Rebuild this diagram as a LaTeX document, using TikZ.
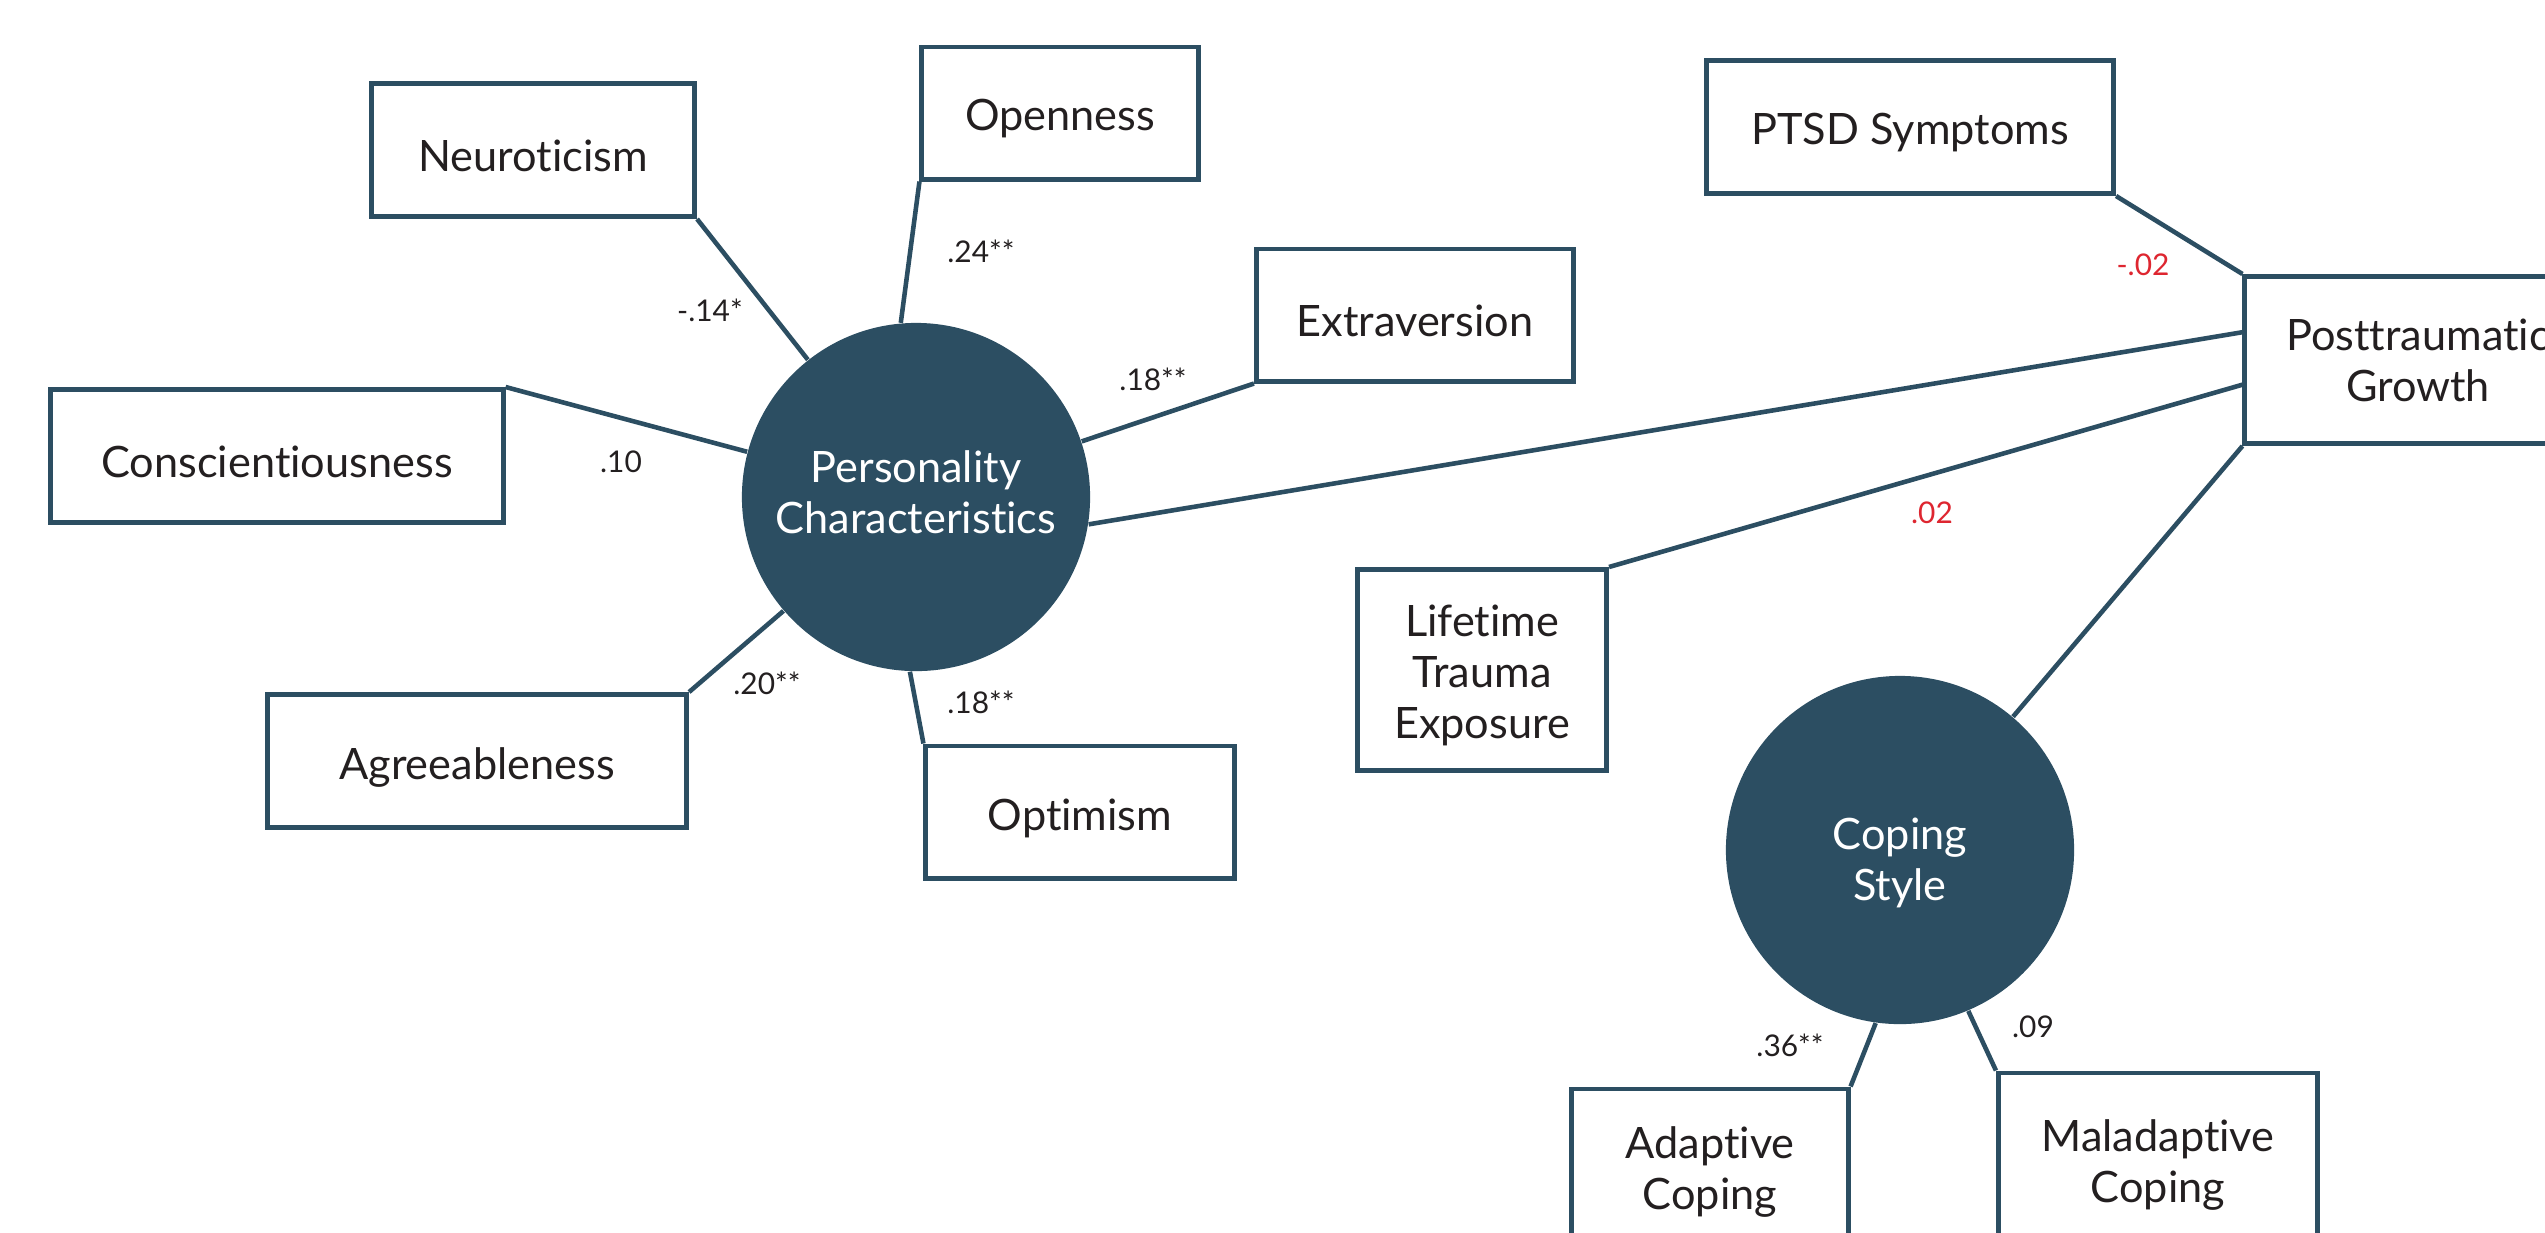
\documentclass[tikz,border=0pt]{standalone}
\usepackage{fontspec}
\setmainfont{Lato}[Ligatures=NoCommon]
\definecolor{navy}{RGB}{44,78,98}
\definecolor{labred}{RGB}{222,38,48}
\definecolor{ink}{RGB}{35,31,32}
\newcommand{\lowr}[2]{\raisebox{-#1}[\height][\depth]{#2}}
\begin{document}
\begin{tikzpicture}[x=0.01cm,y=-0.01cm,
  box/.style={draw=navy, line width=1.4pt, rectangle, inner sep=0pt, align=center, text=ink,
    font=\fontsize{12.3}{14.5}\selectfont},
  circ/.style={circle, fill=navy, minimum size=3.48cm, inner sep=0pt, align=center, text=white,
    font=\fontsize{12.3}{14.5}\selectfont},
  lnk/.style={draw=navy, line width=1.3pt},
  lab/.style={font=\fontsize{8.5}{10}\selectfont, text=ink, inner sep=0pt},
  lred/.style={lab, text=labred}]
\clip (0,0) rectangle (2545,1232);
\fill[white] (0,0) rectangle (2545,1232);
% nodes
\node[box, minimum width=3.23cm, minimum height=1.33cm] (neur) at (533,150) {\lowr{0.06cm}{Neuroticism}};
\node[box, minimum width=2.76cm, minimum height=1.32cm] (open) at (1060,113) {\lowr{0.06cm}{Openness}};
\node[box, minimum width=3.17cm, minimum height=1.32cm] (extr) at (1415,315) {\lowr{0.06cm}{Extraversion}};
\node[box, minimum width=4.52cm, minimum height=1.33cm] (consc) at (277,456) {\lowr{0.06cm}{Conscientiousness}};
\node[box, minimum width=4.19cm, minimum height=1.33cm] (agree) at (477,761) {\lowr{0.06cm}{Agreeableness}};
\node[box, minimum width=3.08cm, minimum height=1.32cm] (optim) at (1080,812) {\lowr{0.06cm}{Optimism}};
\node[circ] (pers) at (916,497) {\lowr{-0.05cm}{Personality}\\\lowr{-0.05cm}{Characteristics}};
\node[box, minimum width=4.07cm, minimum height=1.33cm] (ptsd) at (1910,127) {\lowr{0.06cm}{PTSD Symptoms}};
\node[box, minimum width=3.46cm, minimum height=1.67cm] (ptg) at (2418,360) {Posttraumatic\\Growth};
\node[box, minimum width=2.49cm, minimum height=2.01cm] (life) at (1482,670) {\lowr{0.05cm}{Lifetime}\\\lowr{0.05cm}{Trauma}\\\lowr{0.05cm}{Exposure}};
\node[circ] (coping) at (1900,850) {\lowr{0.13cm}{Coping}\\\lowr{0.13cm}{Style}};
\node[box, minimum width=2.76cm, minimum height=1.66cm] (adapt) at (1710,1172) {Adaptive\\Coping};
\node[box, minimum width=3.19cm, minimum height=1.72cm] (malad) at (2158,1159) {\lowr{0.06cm}{Maladaptive}\\\lowr{0.06cm}{Coping}};
% connectors
\draw[lnk] (neur.south east) -- (pers);
\draw[lnk] (open.south west) -- (pers.95);
\draw[lnk] (extr.south west) -- (pers);
\draw[lnk] (consc.north east) -- (pers);
\draw[lnk] (agree.north east) -- (pers);
\draw[lnk] (optim.north west) -- (pers.268);
\draw[lnk] (pers.-9) -- (ptg.171);
\draw[lnk] (ptsd.south east) -- (ptg.north west);
\draw[lnk] (life.north east) -- (ptg.188.5);
\draw[lnk] (ptg.south west) -- (coping);
\draw[lnk] (adapt.north east) -- (coping.262);
\draw[lnk] (malad.north west) -- (coping.293);
% labels
\node[lab] (l1) at (710,310) {-.14*};
\node[lab] (l2) at (981,251) {.24**};
\node[lab] (l3) at (1153,379) {.18**};
\node[lab] (l4) at (621,462) {.10};
\node[lab] (l5) at (767,683) {.20**};
\node[lab] (l6) at (981,702) {.18**};
\node[lred] (l7) at (2143,265) {-.02};
\node[lred] (l8) at (1932,513) {.02};
\node[lab] (l9) at (1790,1045) {.36**};
\node[lab] (l10) at (2033,1027) {.09};
\end{tikzpicture}
\end{document}
